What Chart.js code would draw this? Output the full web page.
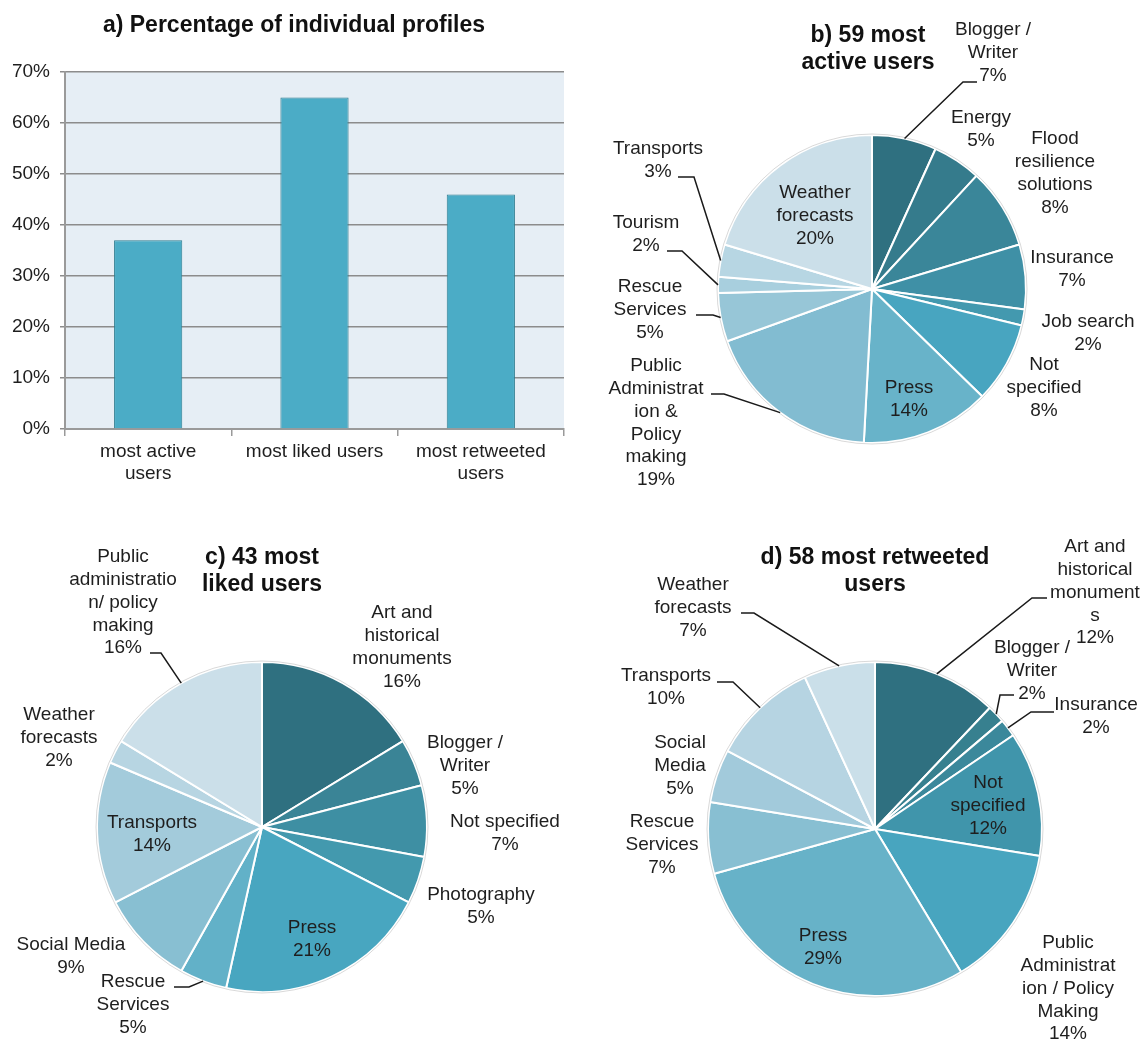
<!DOCTYPE html>
<html>
<head>
<meta charset="utf-8">
<script src="https://cdn.jsdelivr.net/npm/chart.js@4.4.1/dist/chart.umd.min.js"></script>
<style>
  html, body { margin: 0; padding: 0; background: #fff; }
  #wrap { position: relative; width: 1141px; height: 1040px; }
  canvas { position: absolute; }
</style>
</head>
<body>
<div id="wrap">
  <canvas id="barChart" width="580" height="500" style="left:0;top:0"></canvas>
  <canvas id="activeChart" width="561" height="500" style="left:580px;top:0"></canvas>
  <canvas id="likedChart" width="580" height="520" style="left:0;top:520px"></canvas>
  <canvas id="retweetChart" width="561" height="520" style="left:580px;top:520px"></canvas>
</div>
<script>
// a) percentage of individual profiles in each group
const groupLabels = [['most active', 'users'], 'most liked users', ['most retweeted', 'users']];
const individualPct = [37, 65, 46];

// b) 59 most active users, number of users per category (labels show the rounded share)
const activeCats = [['Blogger /', 'Writer'], 'Energy', ['Flood', 'resilience', 'solutions'], 'Insurance',
  'Job search', ['Not', 'specified'], 'Press', ['Public', 'Administrat', 'ion &', 'Policy', 'making'],
  ['Rescue', 'Services'], 'Tourism', 'Transports', ['Weather', 'forecasts']];
const activeUsers = [4, 3, 5, 4, 1, 5, 8, 11, 3, 1, 2, 12];

// c) 43 most liked users
const likedCats = [['Art and', 'historical', 'monuments'], ['Blogger /', 'Writer'], 'Not specified',
  'Photography', 'Press', ['Rescue', 'Services'], 'Social Media', 'Transports', ['Weather', 'forecasts'],
  ['Public', 'administratio', 'n/ policy', 'making']];
const likedUsers = [7, 2, 3, 2, 9, 2, 4, 6, 1, 7];

// d) 58 most retweeted users
const retweetCats = [['Art and', 'historical', 'monument', 's'], ['Blogger /', 'Writer'], 'Insurance',
  ['Not', 'specified'], ['Public', 'Administrat', 'ion / Policy', 'Making'], 'Press', ['Rescue', 'Services'],
  ['Social', 'Media'], 'Transports', ['Weather', 'forecasts']];
const retweetUsers = [7, 1, 1, 7, 8, 17, 4, 3, 6, 4];

const FONT = '"Liberation Sans", Arial, sans-serif';
const LINE = 22.8;
Chart.defaults.font.family = FONT;
Chart.defaults.color = '#1e1e1e';

// bar chart background + title
const plotBg = {
  id: 'plotBg',
  beforeDraw(chart) {
    const a = chart.chartArea;
    const ctx = chart.ctx;
    ctx.save();
    ctx.fillStyle = '#e6eef5';
    ctx.fillRect(a.left, a.top, a.right - a.left, a.bottom - a.top);
    ctx.fillStyle = '#111';
    ctx.font = 'bold 23px ' + FONT;
    ctx.textAlign = 'center';
    ctx.textBaseline = 'middle';
    ctx.fillText('a) Percentage of individual profiles', 294, 26);
    ctx.restore();
  }
};

new Chart(document.getElementById('barChart'), {
  type: 'bar',
  data: {
    labels: groupLabels,
    datasets: [{
      data: individualPct,
      backgroundColor: '#4bacc6',
      borderColor: '#2e7d90',
      borderWidth: 1,
      barPercentage: 0.41,
      categoryPercentage: 1
    }]
  },
  options: {
    responsive: false,
    animation: false,
    devicePixelRatio: 1,
    layout: { padding: { top: 72, left: 0, right: 16, bottom: 0 } },
    plugins: {
      legend: { display: false },
      tooltip: { enabled: false }
    },
    scales: {
      y: {
        min: 0,
        max: 70,
        ticks: { stepSize: 10, callback: v => v + '%', font: { size: 19 }, padding: 10 },
        grid: { color: '#8c8c8c', lineWidth: 1.5, tickLength: 5 },
        border: { color: '#9a9a9a', width: 2 },
        afterFit(scale) { scale.width = 65; }
      },
      x: {
        ticks: { font: { size: 19, lineHeight: 1.15 }, padding: 5, maxRotation: 0 },
        grid: { drawOnChartArea: false, color: '#9a9a9a', lineWidth: 1.5, tickLength: 7 },
        border: { color: '#9a9a9a', width: 2 },
        afterFit(scale) { scale.height = 71; }
      }
    }
  },
  plugins: [plotBg]
});

// labels, titles and leader lines of the pies
const pieText = {
  id: 'pieText',
  afterDatasetsDraw(chart) {
    const arc = chart.getDatasetMeta(0).data[0];
    const ctx = chart.ctx;
    ctx.save();
    ctx.strokeStyle = 'rgba(0,0,0,0.15)';
    ctx.lineWidth = 1;
    ctx.beginPath();
    ctx.arc(arc.x, arc.y, arc.outerRadius + 1, 0, Math.PI * 2);
    ctx.stroke();
    ctx.restore();
  },
  afterDraw(chart, args, opts) {
    const ctx = chart.ctx;
    const [ox, oy] = opts.origin;
    const meta = chart.getDatasetMeta(0);
    const values = chart.data.datasets[0].data;
    const total = values.reduce((s, v) => s + v, 0);
    ctx.save();
    ctx.fillStyle = '#111';
    ctx.textAlign = 'center';
    ctx.textBaseline = 'middle';
    ctx.font = 'bold 23px ' + FONT;
    opts.title.lines.forEach((t, i) => ctx.fillText(t, opts.title.x - ox, opts.title.y - oy + i * 26.5));
    ctx.font = '19px ' + FONT;
    ctx.fillStyle = '#1e1e1e';
    ctx.strokeStyle = '#1a1a1a';
    ctx.lineWidth = 1.5;
    chart.data.labels.forEach((lab, i) => {
      const p = opts.spots[i];
      const lines = [].concat(lab, Math.round(values[i] / total * 100) + '%');
      lines.forEach((t, k) => ctx.fillText(t, p.x - ox, p.y - oy + k * LINE));
      if (p.leader) {
        const a = meta.data[i];
        const mid = (a.startAngle + a.endAngle) / 2;
        ctx.beginPath();
        ctx.moveTo(p.leader[0][0] - ox, p.leader[0][1] - oy);
        ctx.lineTo(p.leader[1][0] - ox, p.leader[1][1] - oy);
        ctx.lineTo(a.x + Math.cos(mid) * a.outerRadius, a.y + Math.sin(mid) * a.outerRadius);
        ctx.stroke();
      }
    });
    ctx.restore();
  }
};

function makePie(id, labels, values, colors, cx, cy, r, textOpts) {
  const canvas = document.getElementById(id);
  const w = canvas.width, h = canvas.height;
  return new Chart(canvas, {
    type: 'pie',
    data: {
      labels: labels,
      datasets: [{ data: values, backgroundColor: colors, borderColor: '#ffffff', borderWidth: 2 }]
    },
    options: {
      responsive: false,
      animation: false,
      devicePixelRatio: 1,
      layout: { padding: { left: cx - r - 1, right: w - cx - r - 1, top: cy - r - 1, bottom: h - cy - r - 1 } },
      plugins: { legend: { display: false }, tooltip: { enabled: false }, pieText: textOpts }
    },
    plugins: [pieText]
  });
}

makePie('activeChart', activeCats, activeUsers,
  ['#2f7080', '#357b8c', '#3a8699', '#3f90a6', '#4399af', '#48a5c0', '#68b3c9', '#82bcd1',
   '#97c6d7', '#a8cfde', '#b7d6e3', '#cbdfe9'],
  292, 289, 154, {
    origin: [580, 0],
    title: { lines: ['b) 59 most', 'active users'], x: 868, y: 36 },
    spots: [
      { x: 993, y: 30, leader: [[977, 82], [963, 82]] },
      { x: 981, y: 118 },
      { x: 1055, y: 139 },
      { x: 1072, y: 258 },
      { x: 1088, y: 322 },
      { x: 1044, y: 365 },
      { x: 909, y: 388 },
      { x: 656, y: 366, leader: [[711, 394], [724, 394]] },
      { x: 650, y: 287, leader: [[696, 315], [713, 315]] },
      { x: 646, y: 223, leader: [[667, 251], [682, 251]] },
      { x: 658, y: 149, leader: [[678, 177], [694, 177]] },
      { x: 815, y: 193 }
    ]
  });

makePie('likedChart', likedCats, likedUsers,
  ['#2f7080', '#3a8496', '#3e8fa3', '#4399ae', '#48a6c0', '#62b1c8', '#88bfd2', '#a3cbdb',
   '#b7d5e2', '#cbdfe9'],
  262, 307, 165, {
    origin: [0, 520],
    title: { lines: ['c) 43 most', 'liked users'], x: 262, y: 558 },
    spots: [
      { x: 402, y: 613 },
      { x: 465, y: 743 },
      { x: 505, y: 822 },
      { x: 481, y: 895 },
      { x: 312, y: 928 },
      { x: 133, y: 982, leader: [[174, 987], [189, 987]] },
      { x: 71, y: 945 },
      { x: 152, y: 823 },
      { x: 59, y: 715 },
      { x: 123, y: 557, leader: [[150, 653], [161, 653]] }
    ]
  });

makePie('retweetChart', retweetCats, retweetUsers,
  ['#2f7080', '#37808f', '#3b889b', '#4095ab', '#48a5bf', '#67b2c8', '#88bfd2', '#a2cadb',
   '#b6d4e2', '#cadfe9'],
  295, 309, 167, {
    origin: [580, 520],
    title: { lines: ['d) 58 most retweeted', 'users'], x: 875, y: 558 },
    spots: [
      { x: 1095, y: 547, leader: [[1047, 598], [1032, 598]] },
      { x: 1032, y: 648, leader: [[1014, 695], [1000, 695]] },
      { x: 1096, y: 705, leader: [[1054, 712], [1031, 712]] },
      { x: 988, y: 783 },
      { x: 1068, y: 943 },
      { x: 823, y: 936 },
      { x: 662, y: 822 },
      { x: 680, y: 743 },
      { x: 666, y: 676, leader: [[717, 682], [733, 682]] },
      { x: 693, y: 585, leader: [[741, 613], [754, 613]] }
    ]
  });
</script>
</body>
</html>
